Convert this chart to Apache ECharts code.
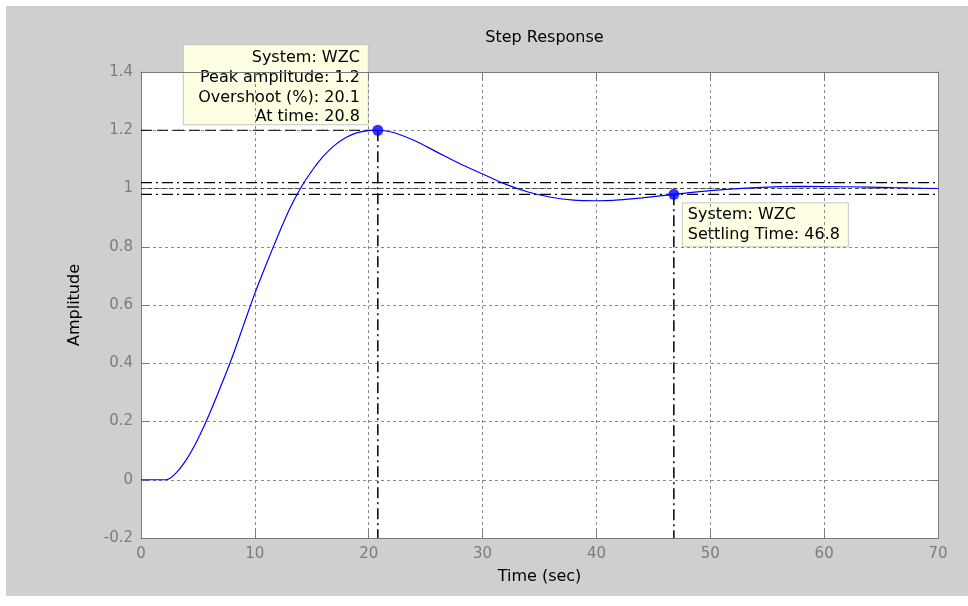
<!DOCTYPE html>
<html>
<head>
<meta charset="utf-8">
<script src="https://cdn.jsdelivr.net/npm/echarts@6/dist/echarts.min.js"></script>
<style>
html,body{margin:0;padding:0;background:#fff;}
#chart{width:968px;height:606px;}
</style>
</head>
<body>
<div id="chart"></div>
<script>
// ---- data ----
var timeSec = [0, 2.2, 3.0, 4.0, 5.0, 6.0, 7.0, 8.0, 9.0, 10.0, 11.0, 12.0, 13.0, 14.0, 15.0, 16.0, 17.0, 18.0, 19.0, 20.0, 20.8, 22.0, 24.0, 26.0, 28.0, 30.0, 32.0, 34.0, 36.0, 38.0, 40.0, 42.0, 44.0, 46.8, 50.0, 54.0, 58.0, 62.0, 66.0, 70.0];
var amplitude = [0, 0, 0.02, 0.07, 0.14, 0.225, 0.32, 0.42, 0.53, 0.64, 0.74, 0.835, 0.925, 1.0, 1.06, 1.11, 1.148, 1.175, 1.192, 1.199, 1.2, 1.194, 1.165, 1.125, 1.085, 1.05, 1.015, 0.988, 0.97, 0.96, 0.958, 0.961, 0.968, 0.98, 0.993, 1.003, 1.007, 1.006, 1.003, 1.0];
var peakPoint = [20.8, 1.2];
var settlePoint = [46.8, 0.98];
var finalValue = 1.0;
var settleBand = [1.02, 0.98];
var xTickLabels = ['0', '10', '20', '30', '40', '50', '60', '70'];
var yTickLabels = ['-0.2', '0', '0.2', '0.4', '0.6', '0.8', '1', '1.2', '1.4'];
var tip1Lines = ['System: WZC', 'Peak amplitude: 1.2', 'Overshoot (%): 20.1', 'At time: 20.8'];
var tip2Lines = ['System: WZC', 'Settling Time: 46.8'];

var xMin = 0, xMax = 70, xStep = 10;
var yMin = -0.2, yMax = 1.4, yStep = 0.2;

var curve = timeSec.map(function (t, i) { return [t, amplitude[i]]; });

var gridLeft = 141, gridRight = 30, gridTop = 72, gridBottom = 68;
var chart = echarts.init(document.getElementById('chart'));
var tickFont = { color: '#7c7c7c', fontFamily: 'DejaVu Sans', fontSize: 15 };
var nameFont = { color: '#000', fontFamily: 'DejaVu Sans', fontSize: 16 };
var axisLineStyle = { color: '#7a7a7a', width: 1 };
var gridLine = { show: true, lineStyle: { color: '#8a8a8a', type: [3, 3], width: 1 } };

function refLine(data, dash, color, width) {
  return {
    type: 'line', data: data, symbol: 'none', silent: true, animation: false,
    xAxisIndex: 0, yAxisIndex: 0,
    lineStyle: { color: color || '#000', width: width || 1.2, type: dash }, z: 3
  };
}

var bgRect = {
  type: 'rect', z: -10, silent: true,
  shape: { x: 6, y: 6, width: 962, height: 590 },
  style: { fill: '#cfcfcf' }
};

var option = {
  backgroundColor: '#ffffff',
  animation: false,
  title: {
    text: 'Step Response', left: gridLeft + (968 - gridLeft - gridRight) / 2, textAlign: 'center', top: 25,
    textStyle: { color: '#000', fontWeight: 'normal', fontFamily: 'DejaVu Sans', fontSize: 16 }
  },
  grid: { left: gridLeft, right: gridRight, top: gridTop, bottom: gridBottom, show: true, backgroundColor: '#ffffff', borderWidth: 0 },
  xAxis: [{
    type: 'value', min: xMin, max: xMax, interval: xStep,
    name: 'Time (sec)', nameLocation: 'middle', nameGap: 31,
    nameTextStyle: nameFont,
    axisLine: { show: true, onZero: false, lineStyle: axisLineStyle },
    axisTick: { show: true, inside: true, length: 8, lineStyle: axisLineStyle },
    axisLabel: Object.assign({ margin: 9, formatter: function (v) { return xTickLabels[Math.round((v - xMin) / xStep)]; } }, tickFont),
    splitLine: gridLine
  }, {
    type: 'value', min: xMin, max: xMax, interval: xStep, position: 'top',
    axisLine: { show: true, onZero: false, lineStyle: axisLineStyle },
    axisTick: { show: true, inside: true, length: 8, lineStyle: axisLineStyle },
    axisLabel: { show: false }, splitLine: { show: false }
  }],
  yAxis: [{
    type: 'value', min: yMin, max: yMax, interval: yStep,
    name: 'Amplitude', nameLocation: 'middle', nameGap: 58,
    nameTextStyle: nameFont,
    axisLine: { show: true, onZero: false, lineStyle: axisLineStyle },
    axisTick: { show: true, inside: true, length: 8, lineStyle: axisLineStyle },
    axisLabel: Object.assign({ margin: 8, formatter: function (v) { return yTickLabels[Math.round((v - yMin) / yStep)]; } }, tickFont),
    splitLine: gridLine
  }, {
    type: 'value', min: yMin, max: yMax, interval: yStep, position: 'right',
    axisLine: { show: true, onZero: false, lineStyle: axisLineStyle },
    axisTick: { show: true, inside: true, length: 8, lineStyle: axisLineStyle },
    axisLabel: { show: false }, splitLine: { show: false }
  }],
  series: [
    refLine([[xMin, peakPoint[1]], peakPoint], [11, 5]),
    refLine([peakPoint, [peakPoint[0], yMin]], [11, 4, 2, 4], '#000', 1.5),
    refLine([[xMin, settleBand[0]], [xMax, settleBand[0]]], [11, 4, 2, 4]),
    refLine([[xMin, finalValue], [xMax, finalValue]], [4, 3], '#444', 1),
    refLine([[xMin, settleBand[1]], [xMax, settleBand[1]]], [11, 4, 2, 4]),
    refLine([settlePoint, [settlePoint[0], yMin]], [11, 4, 2, 4], '#000', 1.5),
    {
      type: 'line', data: curve, symbol: 'none', smooth: 0.3, silent: true,
      lineStyle: { color: '#0000ff', width: 1.2 }, z: 5
    },
    {
      type: 'scatter', data: [peakPoint, settlePoint], symbol: 'circle', symbolSize: 11,
      itemStyle: { color: '#0000ff' }, z: 6, silent: true
    }
  ],
  graphic: [bgRect]
};
chart.setOption(option);

// Data tips anchored to the data points
var p1 = chart.convertToPixel({ gridIndex: 0 }, peakPoint);
var p2 = chart.convertToPixel({ gridIndex: 0 }, settlePoint);
var tipStyle = { fill: '#ffffe4', stroke: '#c4c4c4', lineWidth: 1 };
var tipFont = '16px "DejaVu Sans"';
var w1 = 185, h1 = 80, w2 = 166, h2 = 44;
chart.setOption({
  graphic: [bgRect, {
    type: 'group', z: 100, silent: true,
    x: p1[0] - 10 - w1, y: p1[1] - 6 - h1,
    children: [
      { type: 'rect', shape: { x: 0.5, y: 0.5, width: w1, height: h1 }, style: tipStyle },
      { type: 'text', style: { x: w1 - 8, y: 4, text: tip1Lines.join('\n'), font: tipFont, lineHeight: 19.7, fill: '#000', align: 'right', verticalAlign: 'top' } }
    ]
  }, {
    type: 'group', z: 100, silent: true,
    x: p2[0] + 8, y: p2[1] + 8,
    children: [
      { type: 'rect', shape: { x: 0.5, y: 0.5, width: w2, height: h2 }, style: tipStyle },
      { type: 'text', style: { x: 6, y: 3, text: tip2Lines.join('\n'), font: tipFont, lineHeight: 19.5, fill: '#000', align: 'left', verticalAlign: 'top' } }
    ]
  }]
});
</script>
</body>
</html>
